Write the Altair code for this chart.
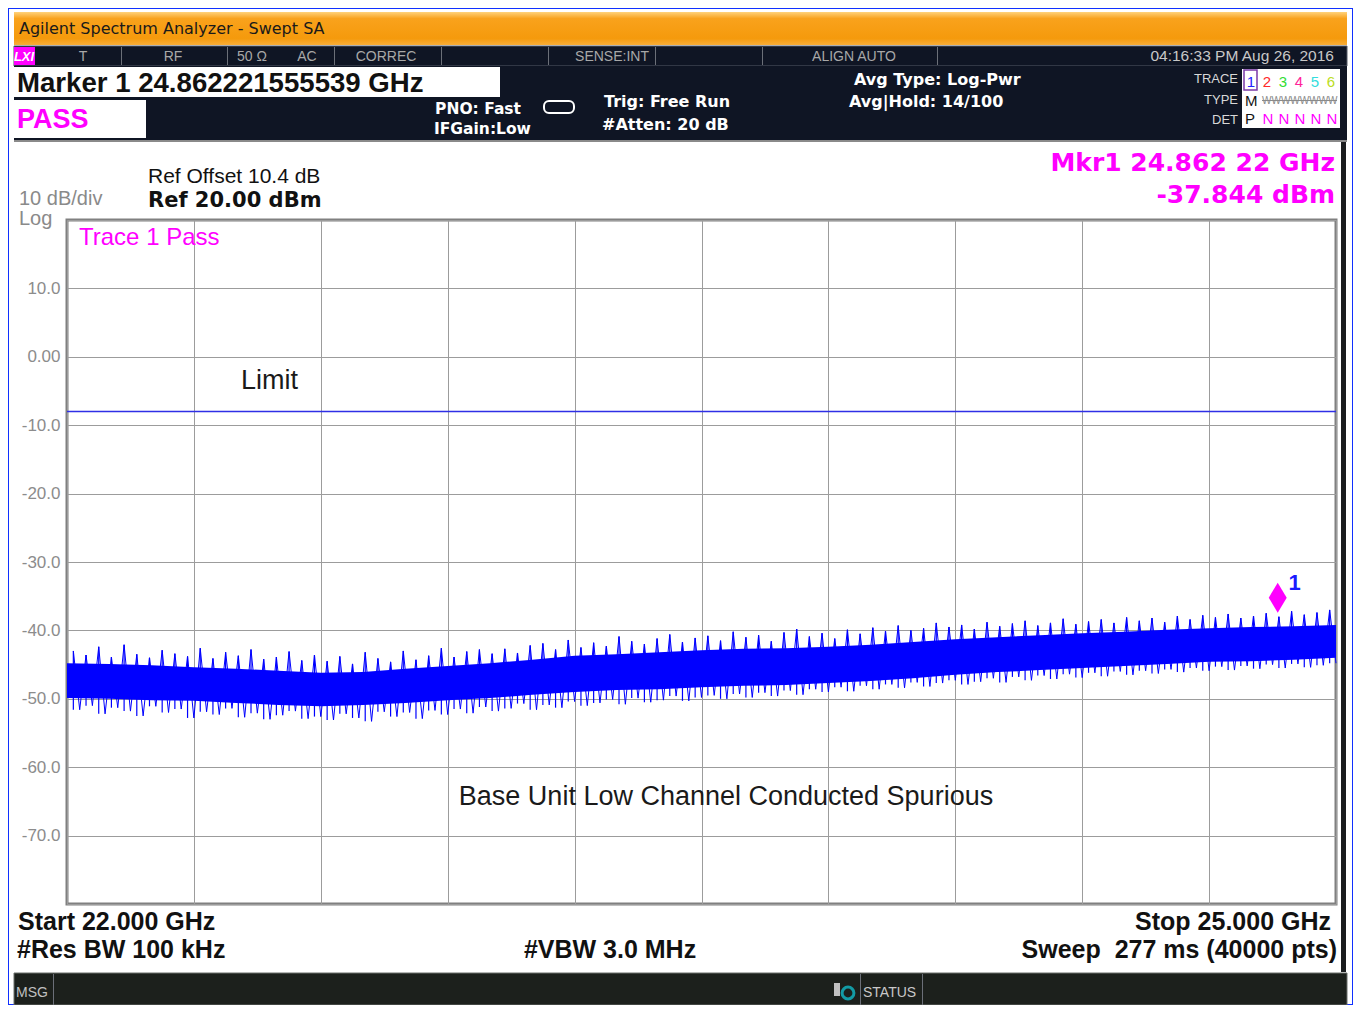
import altair as alt
import pandas as pd

START_GHZ, STOP_GHZ = 22.0, 25.0
REF_TOP, REF_BOTTOM = 20.0, -80.0
X_TICKS = [22.0, 22.3, 22.6, 22.9, 23.2, 23.5, 23.8, 24.1, 24.4, 24.7, 25.0]
Y_TICKS = [20, 10, 0, -10, -20, -30, -40, -50, -60, -70, -80]
LIMIT_DBM = [-8.0]
MARKER_GHZ = [24.862222]
MARKER_DBM = [-37.844]

# dense core of the noise trace (every 0.1 GHz)
CORE_FREQ = [round(22.0 + 0.1 * i, 2) for i in range(31)]
CORE_HI = [-44.8, -44.9, -45.1, -45.4, -45.6, -45.9, -46.2, -46.1, -45.6, -45.2,
           -44.8, -44.3, -43.7, -43.5, -43.2, -42.9, -42.7, -42.6, -42.4, -42.1,
           -41.7, -41.3, -41.0, -40.7, -40.4, -40.2, -39.9, -39.7, -39.5, -39.4, -39.2]
CORE_LO = [-49.9, -50.0, -50.2, -50.3, -50.6, -50.9, -51.1, -50.9, -50.6, -50.2,
           -49.9, -49.4, -49.0, -48.7, -48.6, -48.3, -48.1, -48.0, -47.7, -47.4,
           -47.0, -46.5, -46.1, -45.8, -45.5, -45.2, -44.9, -44.6, -44.5, -44.3, -44.0]

# noise spikes (peaks above / below the core)
SPIKE_FREQ = [round(22.015 + 0.03 * i, 3) for i in range(100)]
SPIKE_UP = [-43.0, -43.6, -42.4, -43.9, -42.1, -43.5, -44.0, -42.9, -43.4, -43.8,
            -42.6, -44.1, -43.2, -43.7, -42.8, -44.2, -43.9, -43.1, -44.4, -43.6,
            -44.5, -43.8, -44.9, -43.2, -44.1, -44.6, -43.0, -44.3, -43.7, -42.6,
            -43.9, -43.1, -42.8, -43.4,
            -42.7, -43.3, -42.2, -41.9, -42.8, -41.4, -42.5, -41.8, -42.3, -40.9,
            -41.6, -42.0, -41.2, -40.6, -41.7, -41.1, -40.8,
            -41.5, -40.2, -41.0, -40.7, -41.6, -40.3, -39.8, -40.9, -40.4, -41.2,
            -39.9, -40.5, -39.6, -40.1, -39.3, -40.0, -39.7, -38.9, -39.5, -39.2,
            -39.8, -38.8, -39.4, -39.0, -38.6, -39.3, -38.9, -38.3, -39.1, -38.7,
            -38.4, -38.9, -38.1, -38.6, -38.2, -38.8, -37.9, -38.4, -37.8, -38.1,
            -37.6, -38.2, -37.9, -37.5, -38.0, -37.2, -37.7, -37.4, -37.0]
SPIKE_DN = [-51.6, -51.0, -52.2, -51.3, -51.8, -52.5, -51.1, -52.0, -51.5, -52.8,
            -51.9, -52.3, -51.4, -52.7, -52.1, -53.0, -52.4, -51.8, -52.9, -52.6,
            -53.1, -52.2, -52.8, -53.3, -51.9, -52.6, -52.0, -52.9, -51.7, -52.3,
            -51.5, -52.1, -51.2, -51.8,
            -51.4, -50.7, -51.6, -50.9, -51.3, -50.4, -51.0, -50.6, -50.1, -50.8,
            -49.9, -50.5, -50.2, -49.6, -50.3, -49.8, -49.5,
            -50.0, -49.3, -49.8, -49.1, -49.6, -48.8, -49.4, -48.6, -49.0, -48.3,
            -48.9, -48.1, -48.6, -47.9, -48.4, -47.6, -48.2, -47.7, -47.3, -47.9,
            -47.5, -47.0, -47.6, -46.8, -47.3, -46.6, -47.1, -46.4, -46.9, -46.2,
            -46.7, -46.0, -46.5, -45.9, -46.3, -45.7, -46.1, -45.5, -45.9, -45.3,
            -45.8, -45.2, -45.6, -45.0, -45.5, -44.9, -45.4, -45.1, -44.8]

# screen texts
TITLE = "Agilent Spectrum Analyzer - Swept SA"
STATUS_ITEMS = [("T", 83), ("RF", 173), ("50 Ω", 252), ("AC", 307), ("CORREC", 386),
                ("SENSE:INT", 612), ("ALIGN AUTO", 854)]
DATE_TEXT = "04:16:33 PM Aug 26, 2016"
MARKER_TEXT = "Marker 1 24.862221555539 GHz"
PASS_TEXT = "PASS"
MKR_LINE1 = "Mkr1 24.862 22 GHz"
MKR_LINE2 = "-37.844 dBm"
TRACE_DIGITS = ["1", "2", "3", "4", "5", "6"]
TRACE_COLORS = ["#2222ff", "#ff2a2a", "#33dd33", "#ff2299", "#33dddd", "#bbdd22"]
CHART_NOTE = "Base Unit Low Channel Conducted Spurious"

# ---------------- layout helpers (page pixels) ----------------
X0, Y0 = 67, 220          # top-left of the plot area on the page
W, H = 1269, 684
ONE = pd.DataFrame({"k": [0]})
SANS = "Liberation Sans"
DJV = "DejaVu Sans"


def rect(x1, y1, x2, y2, fill, stroke=None, sw=1, corner=0):
    kw = dict(fill=fill)
    if stroke:
        kw.update(stroke=stroke, strokeWidth=sw)
    if corner:
        kw.update(cornerRadius=corner)
    return alt.Chart(ONE).mark_rect(**kw).encode(
        x=alt.value(x1 - X0), x2=alt.value(x2 - X0),
        y=alt.value(y1 - Y0), y2=alt.value(y2 - Y0))


def text(s, x, y, size, color, font=SANS, weight="normal", align="left", style="normal"):
    return alt.Chart(ONE).mark_text(
        text=s, align=align, baseline="alphabetic", font=font, fontSize=size,
        fontWeight=weight, fontStyle=style, color=color).encode(
        x=alt.value(x - X0), y=alt.value(y - Y0))


deco = []
# window border (outline only, so the graticule stays visible)
deco.append(rect(8, 8, 1353, 1005, "transparent", "#1030ff", 2))
# title bar
grad = alt.LinearGradient(gradient="linear", x1=0, y1=0, x2=0, y2=1, stops=[
    alt.GradientStop(color="#ffd27a", offset=0),
    alt.GradientStop(color="#f9a21c", offset=0.2),
    alt.GradientStop(color="#f59a0c", offset=0.8),
    alt.GradientStop(color="#f7ac38", offset=1)])
deco.append(rect(14, 12, 1347, 45, grad))
deco.append(text(TITLE, 19, 34, 16, "#1a1a1a", font=DJV))
# status strip
deco.append(rect(14, 46, 1347, 66, "#0f1524", "#555a66", 1))
for sx in [121, 227, 334, 441, 548, 655, 762, 937]:
    deco.append(rect(sx, 47, sx + 1, 65, "#6b6f78"))
deco.append(rect(14, 47, 35, 65, "#ff00ff"))
deco.append(text("LXI", 24, 61, 13, "white", weight="bold", align="center", style="italic"))
for s, cx in STATUS_ITEMS:
    deco.append(text(s, cx, 61, 14, "#a8a8a8", align="center"))
deco.append(text(DATE_TEXT, 1334, 61, 15.5, "#c8c8c8", align="right"))
# info area
deco.append(rect(14, 66, 1347, 140, "#0f1524"))
deco.append(rect(14, 140, 1347, 142, "#8a8a8a"))
deco.append(rect(14, 67, 500, 97, "white"))
deco.append(rect(14, 100, 146, 138, "white"))
deco.append(text(MARKER_TEXT, 17, 92, 27.6, "#111111", weight="bold"))
deco.append(text(PASS_TEXT, 17, 128, 27, "#ff00ff", weight="bold"))
deco.append(text("PNO: Fast", 521, 114, 15.5, "white", font=DJV, weight="bold", align="right"))
deco.append(text("IFGain:Low", 434, 134, 15.5, "white", font=DJV, weight="bold"))
deco.append(rect(544, 101, 574, 113, "transparent", "white", 2, corner=5))
deco.append(text("Trig: Free Run", 604, 107, 16, "white", font=DJV, weight="bold"))
deco.append(text("#Atten: 20 dB", 602, 130, 16, "white", font=DJV, weight="bold"))
deco.append(text("Avg Type: Log-Pwr", 854, 85, 16, "white", font=DJV, weight="bold"))
deco.append(text("Avg|Hold: 14/100", 849, 107, 16, "white", font=DJV, weight="bold"))
deco.append(text("TRACE", 1238, 83, 13, "#d8d8d8", align="right"))
deco.append(text("TYPE", 1238, 104, 13, "#d8d8d8", align="right"))
deco.append(text("DET", 1238, 124, 13, "#d8d8d8", align="right"))
deco.append(rect(1242, 69, 1340, 128, "white"))
deco.append(rect(1244, 70, 1257, 90, "transparent", "#7a3aa8", 1.5))
for i, (d, c) in enumerate(zip(TRACE_DIGITS, TRACE_COLORS)):
    deco.append(text(d, 1251 + 16 * i, 87, 15, c, align="center"))
deco.append(text("M", 1245, 106, 15, "#111111"))
deco.append(text("WWWWWWWW", 1262, 104, 10, "#8a8a8a"))
deco.append(rect(1262, 100, 1337, 101, "#8a8a8a"))
deco.append(text("P", 1245, 124, 15, "#111111"))
for i in range(5):
    deco.append(text("N", 1268 + 16 * i, 124, 15, "#ff00ff", align="center"))
# right dark strip
deco.append(rect(1341, 142, 1346, 972, "#1a1c1e"))
# texts around the graticule
deco.append(text("Ref Offset 10.4 dB", 148, 183, 21, "#111111"))
deco.append(text("Ref 20.00 dBm", 148, 207, 21, "#111111", font=DJV, weight="bold"))
deco.append(text("10 dB/div", 19, 205, 20, "#8a8a8a"))
deco.append(text("Log", 19, 225, 20, "#8a8a8a"))
deco.append(text(MKR_LINE1, 1335, 171, 25, "#ff00ff", font=DJV, weight="bold", align="right"))
deco.append(text(MKR_LINE2, 1335, 203, 25, "#ff00ff", font=DJV, weight="bold", align="right"))
deco.append(text("Trace 1 Pass", 79, 245, 24, "#ff00ff"))
deco.append(text("Limit", 241, 389, 27, "#1a1a1a"))
deco.append(text(CHART_NOTE, 726, 805, 27, "#1a1a1a", align="center"))
# bottom annotations
deco.append(text("Start 22.000 GHz", 18, 930, 25, "#111111", weight="bold"))
deco.append(text("#Res BW 100 kHz", 17, 958, 25, "#111111", weight="bold"))
deco.append(text("#VBW 3.0 MHz", 610, 958, 25, "#111111", weight="bold", align="center"))
deco.append(text("Stop 25.000 GHz", 1331, 930, 25, "#111111", weight="bold", align="right"))
deco.append(text("Sweep\u00a0\u00a0277 ms (40000 pts)", 1337, 958, 25, "#111111", weight="bold", align="right"))
# bottom status bar
deco.append(rect(14, 973, 1347, 1005, "#1c201c", "#6a6e6a", 1))
for sx in [53, 860, 922]:
    deco.append(rect(sx, 974, sx + 1, 1005, "#6b6f78"))
deco.append(text("MSG", 16, 997, 14, "#c0c0c0"))
deco.append(text("STATUS", 863, 997, 14, "#c8c8c8"))
deco.append(rect(834, 983, 840, 996, "#c0c0c0"))
deco.append(alt.Chart(ONE).mark_point(shape="circle", filled=False, color="#10d0e0",
                                      strokeWidth=3, size=140).encode(
    x=alt.value(848 - X0), y=alt.value(993 - Y0)))

# ---------------- measurement layers ----------------
xs = alt.Scale(domain=[START_GHZ, STOP_GHZ], nice=False, zero=False)
ys = alt.Scale(domain=[REF_BOTTOM, REF_TOP], nice=False, zero=False)
grid_color = "#9c9c9c"
x_axis = alt.Axis(values=X_TICKS, labels=False, ticks=False, domain=False, grid=True,
                  gridColor=grid_color, gridWidth=1, title=None)
y_axis = alt.Axis(values=Y_TICKS, ticks=False, domain=False, grid=True, gridColor=grid_color,
                  gridWidth=1, title=None, labelFont=SANS, labelFontSize=17,
                  labelColor="#8c8c8c", labelPadding=7,
                  labelExpr="datum.value == 0 ? '0.00' : (datum.value >= 20 || datum.value <= -80) ? '' : "
                            "(datum.value < 0 ? '-' : '') + format(abs(datum.value), '.1f')")

core_df = pd.DataFrame({"f": CORE_FREQ, "hi": CORE_HI, "lo": CORE_LO})
spike_df = pd.DataFrame({"f": SPIKE_FREQ, "up": SPIKE_UP, "dn": SPIKE_DN})
# the swept trace itself: it swings from each peak to the following dip
trace_rows = []
for f, u, d in zip(SPIKE_FREQ, SPIKE_UP, SPIKE_DN):
    trace_rows.append({"f": f, "v": u})
    trace_rows.append({"f": round(f + 0.015, 4), "v": d})
trace_df = pd.DataFrame(trace_rows)
limit_df = pd.DataFrame({"v": LIMIT_DBM})
marker_df = pd.DataFrame({"f": MARKER_GHZ, "v": MARKER_DBM})

core = alt.Chart(core_df).mark_area(color="#0000ff").encode(
    x=alt.X("f:Q", scale=xs, axis=x_axis),
    y=alt.Y("hi:Q", scale=ys, axis=y_axis),
    y2="lo:Q")
trace = alt.Chart(trace_df).mark_line(color="#0000ff", strokeWidth=1).encode(
    x=alt.X("f:Q", scale=xs), y=alt.Y("v:Q", scale=ys))
spikes = alt.Chart(spike_df).mark_rule(color="#0000ff", strokeWidth=1.2).encode(
    x=alt.X("f:Q", scale=xs), y=alt.Y("up:Q", scale=ys), y2="dn:Q")
limit = alt.Chart(limit_df).mark_rule(color="#2f2fe6", strokeWidth=1.4, opacity=1).encode(
    y=alt.Y("v:Q", scale=ys))
diamond = alt.Chart(marker_df).mark_point(
    shape="M0,-1L0.6,0L0,1L-0.6,0Z", filled=True, color="#ff00ff", opacity=1,
    size=900, yOffset=-18).encode(x=alt.X("f:Q", scale=xs), y=alt.Y("v:Q", scale=ys))
mlabel = alt.Chart(marker_df).mark_text(
    text="1", font=SANS, fontSize=22, fontWeight="bold", color="#1a1aff",
    align="center", baseline="alphabetic", dx=17, dy=-26).encode(
    x=alt.X("f:Q", scale=xs), y=alt.Y("v:Q", scale=ys))

chart = alt.layer(*deco, core, trace, spikes, limit, diamond, mlabel).properties(
    width=W, height=H,
    autosize=alt.AutoSizeParams(type="none"),
    padding={"left": 59, "top": 212, "right": 17, "bottom": 101},
    background="white",
).configure_view(stroke="#808080", strokeWidth=3)

chart.save("out.html", embed_options={"renderer": "svg", "actions": False})
